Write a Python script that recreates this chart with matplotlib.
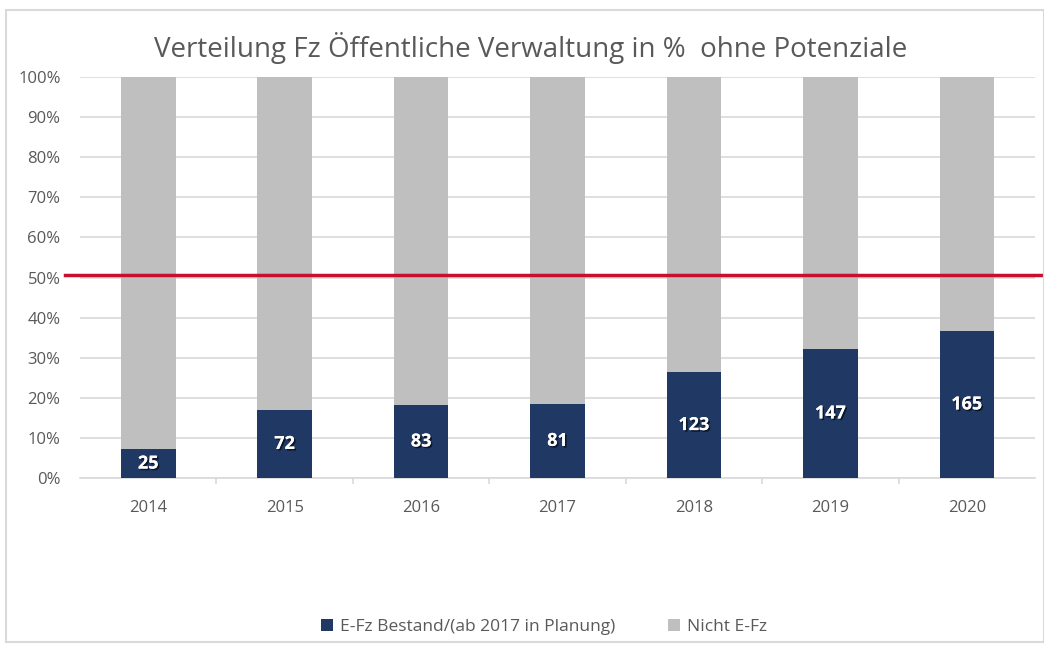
"""
Verteilung Fz Öffentliche Verwaltung – gestapeltes 100%-Säulendiagramm.
"""

import matplotlib
matplotlib.use("Agg")
import matplotlib.pyplot as plt
import matplotlib.patheffects as pe
from matplotlib.patches import Rectangle
from matplotlib.ticker import PercentFormatter

years = ["2014", "2015", "2016", "2017", "2018", "2019", "2020"]
e_fz_share = [7.2, 17.0, 18.2, 18.5, 26.4, 32.2, 36.7]   # Anteil E-Fz in %
e_fz_count = [25, 72, 83, 81, 123, 147, 165]              # Anzahl E-Fz (Beschriftung)
not_e_fz_share = [100 - v for v in e_fz_share]

BLUE = "#1f3864"
GREY = "#bfbfbf"
TEXT = "#595959"

plt.rcParams["font.family"] = ["Open Sans", "DejaVu Sans"]

fig = plt.figure(figsize=(10.44, 6.51), dpi=100)
ax = fig.add_axes([80 / 1044, 1 - 478 / 651, 955 / 1044, 401 / 651])

x = range(len(years))
ax.bar(x, e_fz_share, width=0.4, color=BLUE, zorder=3,
       label="E-Fz Bestand/(ab 2017 in Planung)")
ax.bar(x, not_e_fz_share, width=0.4, bottom=e_fz_share, color=GREY, zorder=3,
       label="Nicht E-Fz")

# Beschriftungen in den blauen Säulen
for xi, share, n in zip(x, e_fz_share, e_fz_count):
    ax.text(xi, share / 2, str(n), ha="center", va="center", color="white",
            fontsize=13, fontweight="bold", zorder=5,
            path_effects=[pe.withSimplePatchShadow(offset=(1.2, -1.2),
                                                   shadow_rgbFace="black", alpha=0.6),
                          pe.Normal()])

# rote 50%-Linie
ax.axhline(50.5, xmin=-0.016, xmax=1.01, color="#c8102e", linewidth=2.5,
           clip_on=False, zorder=4)

ax.set_xlim(-0.5, len(years) - 0.5)
ax.set_ylim(0, 100)
ax.set_yticks(range(0, 101, 10))
ax.yaxis.set_major_formatter(PercentFormatter(decimals=0))
ax.set_xticks(list(x))
ax.set_xticklabels(years)
ax.grid(axis="y", color="#d9d9d9", linewidth=1.2, zorder=0)
ax.set_axisbelow(True)

for side in ["top", "right", "left"]:
    ax.spines[side].set_visible(False)
ax.spines["bottom"].set_color("#d9d9d9")
ax.spines["bottom"].set_linewidth(1.2)

ax.tick_params(axis="y", length=0, labelsize=12, labelcolor=TEXT, pad=14)
ax.tick_params(axis="x", length=0, labelsize=12, labelcolor=TEXT, pad=16)
# kleine Trennstriche zwischen den Kategorien
ax.set_xticks([i + 0.5 for i in range(len(years) - 1)], minor=True)
ax.tick_params(axis="x", which="minor", length=4, color="#d9d9d9", width=1.2)

fig.text(531 / 1044, 1 - 48 / 651,
         "Verteilung Fz Öffentliche Verwaltung in %  ohne Potenziale",
         ha="center", va="center", fontsize=20, color=TEXT)

fig.legend(loc="center", bbox_to_anchor=(544 / 1044, 1 - 627 / 651), ncol=2,
           frameon=False, fontsize=12.5, labelcolor=TEXT, handlelength=0.7,
           handleheight=0.7, columnspacing=3.0, handletextpad=0.4)

# Rahmen um das Diagramm
fig.patches.append(Rectangle((6 / 1044, 1 - 642 / 651), 1 - 6 / 1044, 632 / 651,
                             transform=fig.transFigure, fill=False,
                             edgecolor="#d9d9d9", linewidth=1.5))

fig.savefig("out.png", dpi=100)
